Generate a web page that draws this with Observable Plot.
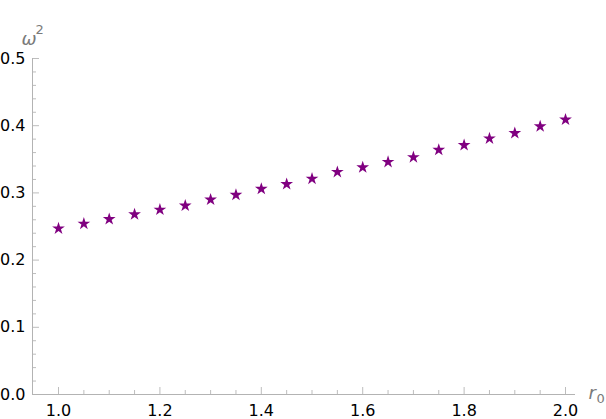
<!DOCTYPE html>
<html>
<head>
<meta charset="utf-8">
<script src="https://cdn.jsdelivr.net/npm/d3@7"></script>
<script src="https://cdn.jsdelivr.net/npm/@observablehq/plot@0.6"></script>
<style>
  html, body { margin: 0; padding: 0; background: #fff; }
  #chart svg { display: block; }
</style>
</head>
<body>
<div id="chart"></div>
<script>
const r0 = [1.00, 1.05, 1.10, 1.15, 1.20, 1.25, 1.30, 1.35, 1.40, 1.45, 1.50,
            1.55, 1.60, 1.65, 1.70, 1.75, 1.80, 1.85, 1.90, 1.95, 2.00];
const omega2 = [0.247, 0.254, 0.261, 0.268, 0.275, 0.281, 0.290, 0.297, 0.306, 0.313, 0.321,
                0.331, 0.338, 0.346, 0.353, 0.364, 0.371, 0.381, 0.389, 0.399, 0.409];

const xMajor = [1.0, 1.2, 1.4, 1.6, 1.8, 2.0];
const xMinor = [1.05, 1.10, 1.15, 1.25, 1.30, 1.35, 1.45, 1.50, 1.55, 1.65, 1.70, 1.75, 1.85, 1.90, 1.95];
const yMajor = [0.0, 0.1, 0.2, 0.3, 0.4, 0.5];
const yMinor = [0.02, 0.04, 0.06, 0.08, 0.12, 0.14, 0.16, 0.18, 0.22, 0.24, 0.26, 0.28,
                0.32, 0.34, 0.36, 0.38, 0.42, 0.44, 0.46, 0.48];
const xLabelBase = "r", xLabelSub = "0";
const yLabelBase = "ω", yLabelSup = "2";

const xDomain = [0.9487, 2.0197];
const yDomain = [0, 0.5];

const W = 606, H = 419;
const mL = 32, mR = 31, mT = 58, mB = 25;
const plotW = W - mL - mR, plotH = H - mT - mB;

const data = r0.map((x, i) => ({x, y: omega2[i]}));

const axisColor = "#b3b3b3";
const tickColor = "#bdbdbd";
const labelColor = "#7a7a7a";

const chart = Plot.plot({
  width: W,
  height: H,
  marginLeft: mL,
  marginRight: mR,
  marginTop: mT,
  marginBottom: mB,
  style: {fontFamily: "DejaVu Sans", fontSize: "16px", color: "#000", background: "#fff"},
  x: {domain: xDomain},
  y: {domain: yDomain},
  marks: [
    // minor and major ticks pointing inward
    Plot.tickX(xMinor, {x: d => d, stroke: tickColor, insetTop: plotH - 4}),
    Plot.tickX(xMajor, {x: d => d, stroke: tickColor, insetTop: plotH - 7}),
    Plot.tickY(yMinor, {y: d => d, stroke: tickColor, insetRight: plotW - 4}),
    Plot.tickY(yMajor, {y: d => d, stroke: tickColor, insetRight: plotW - 7}),
    // axis lines
    Plot.ruleY([yDomain[0]], {stroke: axisColor}),
    Plot.ruleX([xDomain[0]], {stroke: axisColor}),
    Plot.axisX({ticks: xMajor, tickSize: 0, tickPadding: 10, tickFormat: d3.format(".1f"), label: null}),
    Plot.axisY({ticks: yMajor, tickSize: 0, tickPadding: 7, tickFormat: d3.format(".1f"), label: null}),
    Plot.dot(data, {x: "x", y: "y", symbol: "star", r: 4, fill: "#800080", stroke: "none"}),
    // y label: ω with superscript 2
    Plot.text([yLabelBase], {frameAnchor: "top-left", text: d => d, dx: -11, dy: -14, lineAnchor: "bottom",
      textAnchor: "start", fill: labelColor, fontStyle: "italic", fontSize: 18}),
    Plot.text([yLabelSup], {frameAnchor: "top-left", text: d => d, dx: 3, dy: -25, lineAnchor: "bottom",
      textAnchor: "start", fill: labelColor, fontSize: 13}),
    // x label: r with subscript 0
    Plot.text([xLabelBase], {frameAnchor: "bottom-right", text: d => d, dx: 13, dy: 4, lineAnchor: "bottom",
      textAnchor: "start", fill: labelColor, fontStyle: "italic", fontSize: 18}),
    Plot.text([xLabelSub], {frameAnchor: "bottom-right", text: d => d, dx: 21, dy: 8, lineAnchor: "bottom",
      textAnchor: "start", fill: labelColor, fontSize: 13})
  ]
});

document.getElementById("chart").appendChild(chart);
</script>
</body>
</html>
